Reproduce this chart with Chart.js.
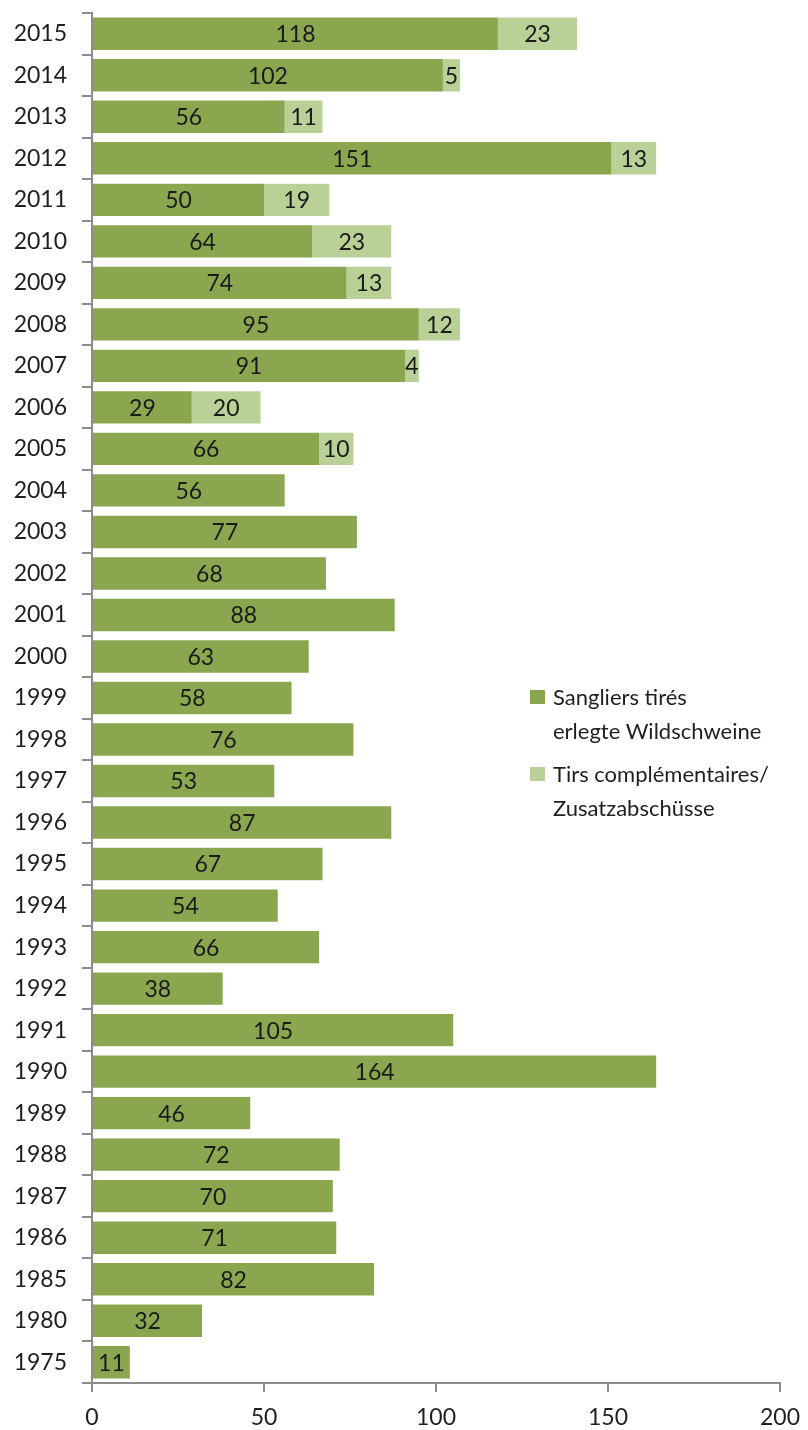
<!DOCTYPE html>
<html lang="fr">
<head>
  <meta charset="UTF-8">
  <title>Sangliers tirés / erlegte Wildschweine</title>
  <script src="https://cdn.jsdelivr.net/npm/chart.js"></script>
  <style>
    * { font-family: Lato, "DejaVu Sans", sans-serif; }
    html, body { margin: 0; padding: 0; background: #ffffff; }
    #wrap { position: relative; width: 808px; height: 1430px; }
    #legend {
      position: absolute;
      left: 530px;
      top: 680px;
      font-size: 22px;
      color: #1f1f1f;
      line-height: 34px;
    }
    .item { position: relative; padding-left: 23px; margin-bottom: 9px; }
    .box { position: absolute; left: 0; top: 10px; width: 15px; height: 14px; }
  </style>
</head>
<body>
  <div id="wrap">
    <canvas id="boars" width="808" height="1430"></canvas>
    <div id="legend">
      <div class="item"><span class="box" style="background:#8aa64f"></span>Sangliers tirés<br>erlegte Wildschweine</div>
      <div class="item"><span class="box" style="background:#b9d196"></span>Tirs complémentaires/<br>Zusatzabschüsse</div>
    </div>
  </div>

  <script>
    const years = ['2015', '2014', '2013', '2012', '2011', '2010', '2009', '2008', '2007', '2006',
                   '2005', '2004', '2003', '2002', '2001', '2000', '1999', '1998', '1997', '1996',
                   '1995', '1994', '1993', '1992', '1991', '1990', '1989', '1988', '1987', '1986',
                   '1985', '1980', '1975'];
    const shot = [118, 102, 56, 151, 50, 64, 74, 95, 91, 29,
                  66, 56, 77, 68, 88, 63, 58, 76, 53, 87,
                  67, 54, 66, 38, 105, 164, 46, 72, 70, 71,
                  82, 32, 11];
    const extra = [23, 5, 11, 13, 19, 23, 13, 12, 4, 20,
                   10, 0, 0, 0, 0, 0, 0, 0, 0, 0,
                   0, 0, 0, 0, 0, 0, 0, 0, 0, 0,
                   0, 0, 0];
    const xTicks = [0, 50, 100, 150, 200];

    const darkGreen = '#8aa64f';
    const lightGreen = '#b9d196';
    const axisGrey = '#8c8c8c';

    // writes each segment's value in the middle of the segment
    const segmentLabels = {
      id: 'segmentLabels',
      afterDatasetsDraw(chart) {
        const ctx = chart.ctx;
        ctx.save();
        ctx.font = '23px Lato';
        ctx.fillStyle = '#1a1a1a';
        ctx.textAlign = 'center';
        ctx.textBaseline = 'middle';
        chart.data.datasets.forEach((ds, i) => {
          chart.getDatasetMeta(i).data.forEach((bar, j) => {
            const v = ds.data[j];
            if (!v) return;
            ctx.fillText(String(v), (bar.x + bar.base) / 2, bar.y + 1);
          });
        });
        ctx.restore();
      }
    };

    new Chart(document.getElementById('boars'), {
      type: 'bar',
      data: {
        labels: years,
        datasets: [
          {
            label: 'Sangliers tirés erlegte Wildschweine',
            data: shot,
            backgroundColor: darkGreen,
            barPercentage: 0.78,
            categoryPercentage: 1
          },
          {
            label: 'Tirs complémentaires/ Zusatzabschüsse',
            data: extra,
            backgroundColor: lightGreen,
            barPercentage: 0.78,
            categoryPercentage: 1
          }
        ]
      },
      options: {
        indexAxis: 'y',
        responsive: false,
        animation: false,
        layout: { padding: { top: 13, right: 28, left: 0, bottom: 0 } },
        plugins: {
          legend: { display: false },
          tooltip: { enabled: false }
        },
        scales: {
          x: {
            stacked: true,
            min: 0,
            max: 200,
            afterBuildTicks(scale) {
              scale.ticks = xTicks.map(v => ({ value: v }));
            },
            afterFit(scale) {
              scale.height = 47;
              scale.paddingLeft = 0;
              scale.paddingRight = 0;
            },
            border: { color: axisGrey, width: 2 },
            grid: { drawOnChartArea: false, drawTicks: true, tickLength: 9, color: axisGrey, lineWidth: 2 },
            ticks: { color: '#1f1f1f', padding: 12, font: { family: 'Lato', size: 23 } }
          },
          y: {
            stacked: true,
            afterFit(scale) {
              scale.width = 92;
              scale.paddingTop = 0;
              scale.paddingBottom = 0;
            },
            border: { color: axisGrey, width: 2 },
            grid: { drawOnChartArea: false, drawTicks: true, tickLength: 10, color: axisGrey, lineWidth: 2, offset: true },
            ticks: { color: '#1f1f1f', padding: 15, font: { family: 'Lato', size: 23 } }
          }
        }
      },
      plugins: [segmentLabels]
    });
  </script>
</body>
</html>
